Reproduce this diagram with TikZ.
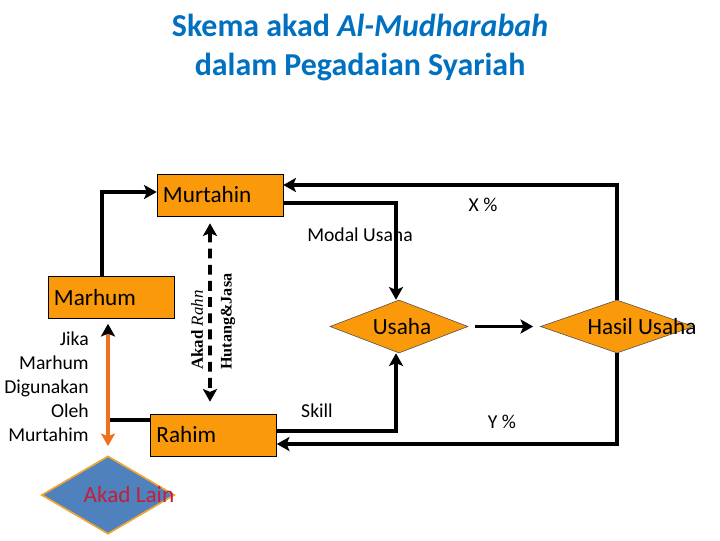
\documentclass[tikz,border=0pt]{standalone}
\usepackage{fontspec}
\setmainfont{Carlito}
\newfontfamily\serifrm{Liberation Serif}
\usepackage{tikz}
\usetikzlibrary{arrows.meta,positioning,shapes.geometric}
\definecolor{boxorange}{RGB}{250,154,10}
\definecolor{lineorange}{RGB}{240,112,32}
\definecolor{diablue}{RGB}{79,129,189}
\definecolor{diaedge}{RGB}{240,165,50}
\definecolor{akadred}{RGB}{196,30,58}
\definecolor{titleblue}{RGB}{0,112,192}

\begin{document}
\begin{tikzpicture}[
  x=0.025cm, y=-0.025cm,
  box/.style={draw, fill=boxorange, minimum height=1.05cm, text width=2.85cm, align=left, inner xsep=0.15cm, font=\fontsize{16.5}{19}\selectfont},
  dia/.style={diamond, draw=black!70, fill=boxorange, inner sep=0pt},
  txt/.style={font=\fontsize{16.5}{19}\selectfont, inner sep=0pt},
  lbl/.style={font=\fontsize{14}{17}\selectfont, inner sep=0pt},
  rot/.style={rotate=90, anchor=west, inner sep=0pt, font=\serifrm\fontsize{12}{14}\selectfont},
  title/.style={anchor=base, text=titleblue, font=\bfseries\fontsize{22.7}{27}\selectfont},
  tip/.style={Stealth[length=9pt, width=10pt, inset=2pt]},
  arr/.style={-{Stealth[length=9pt, width=10pt, inset=2pt]}, line width=2.6pt},
  ln/.style={line width=2.6pt},
  dasharr/.style={{Stealth[length=9pt, width=10pt, inset=2pt]}-{Stealth[length=9pt, width=10pt, inset=2pt]}, line width=2.6pt, dash pattern=on 7pt off 4.5pt}
]
\useasboundingbox (0,0) rectangle (720,540);

% title
\node[title] (titlea) at (360,36) {Skema akad \textit{Al-Mudharabah}};
\node[title] (titleb) at (360,75) {dalam Pegadaian Syariah};

% boxes
\node[box] (murtahin) at (220,195) {Murtahin};
\node[box] (marhum) at (111,297.5) {Marhum};
\node[box] (rahim) at (213.5,435) {Rahim};

% diamonds
\node[dia, minimum width=3.45cm, minimum height=1.325cm] (usaha) at (399,326.5) {};
\node[dia, minimum width=3.825cm, minimum height=1.325cm] (hasil) at (617,326.5) {};
\node[diamond, draw=diaedge, line width=1.2pt, fill=diablue, inner sep=0pt, minimum width=3.325cm, minimum height=1.95cm] (akadlain) at (108,495) {};
\node[txt] (usahatxt) at (402,327) {Usaha};
\node[txt] (hasiltxt) at (642,327) {Hasil Usaha};
\node[txt, text=akadred] (akadtxt) at (129,495) {Akad Lain};

% labels
\node[lbl] (xpct) at (483,205) {X \%};
\node[lbl] (modal) at (360,235) {Modal Usaha};
\node[lbl] (skill) at (317,411) {Skill};
\node[lbl] (ypct) at (502,422) {Y \%};
\node[lbl, align=right, anchor=east] (jika) at (89,387) {Jika\\Marhum\\Digunakan\\Oleh\\Murtahim};
\node[rot] (rahn) at (197,370) {\textbf{Akad} \textit{Rahn}};
\node[rot, font=\serifrm\bfseries\fontsize{11.5}{14}\selectfont] (hutang) at (228,370) {Hutang\&Jasa};

% connectors
\coordinate (joint) at (108,420);
\draw[ln] ([yshift=0.375cm]rahim.west) -- (joint);
\draw[line width=2.6pt, draw=lineorange, {Stealth[length=9pt, width=10pt, inset=2pt, color=black]}-{Stealth[length=9pt, width=10pt, inset=2pt]}] ([yshift=-0.125cm]marhum.south -| akadlain.north) -- ([yshift=0.225cm]akadlain.north);
\draw[arr] ([xshift=-0.225cm]marhum.north) |- ([yshift=0.075cm]murtahin.west);
\draw[dasharr] ([xshift=-0.25cm,yshift=-0.175cm]murtahin.south) -- ([xshift=-0.0875cm,yshift=0.3cm]rahim.north);
\draw[arr] (hasil.north) |- ([yshift=0.25cm]murtahin.east);
\draw[arr] ([yshift=-0.2cm]murtahin.east) -| ([xshift=-0.075cm]usaha.north);
\draw[arr] ([xshift=0.175cm]usaha.east) -- ([xshift=-0.175cm]hasil.west);
\draw[arr] ([yshift=0.1cm]rahim.east) -| ([xshift=-0.075cm]usaha.south);
\draw[arr] (hasil.south) |- ([yshift=-0.225cm]rahim.east);
\end{tikzpicture}
\end{document}
